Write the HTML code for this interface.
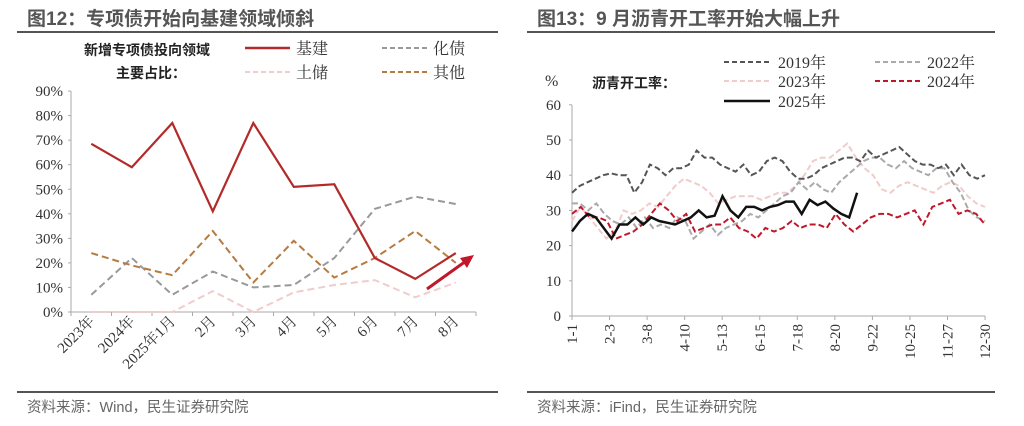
<!DOCTYPE html>
<html><head><meta charset="utf-8"><style>
body{margin:0;background:#fff;}
svg{display:block;font-family:"Liberation Serif","Noto Serif CJK SC",serif;}
.t{font-family:"Liberation Sans","Noto Sans CJK SC",sans-serif;font-weight:bold;fill:#555;font-size:19px}
.s{font-family:"Liberation Sans","Noto Sans CJK SC",sans-serif;fill:#666;font-size:14.5px}
.lg{font-family:"Liberation Serif","Noto Serif CJK SC",serif;fill:#333;font-size:16px}
.b{font-family:"Liberation Sans","Noto Sans CJK SC",sans-serif;font-weight:bold;fill:#222;font-size:14px}
.ax{font-size:15px;fill:#333}
</style></head><body>
<svg id="s" width="1024" height="426" viewBox="0 0 1024 426">
<text class="t" x="27" y="25">图12：专项债开始向基建领域倾斜</text>
<line x1="17" y1="32" x2="498" y2="32" stroke="#555" stroke-width="2"/>
<text class="t" x="537" y="25">图13：9 月沥青开工率开始大幅上升</text>
<line x1="527" y1="32" x2="995" y2="32" stroke="#555" stroke-width="2"/>
<line x1="17" y1="392" x2="498" y2="392" stroke="#555" stroke-width="2"/>
<line x1="527" y1="392" x2="995" y2="392" stroke="#555" stroke-width="2"/>
<text class="s" x="27" y="412">资料来源：Wind，民生证券研究院</text>
<text class="s" x="537" y="412">资料来源：iFind，民生证券研究院</text>
<!-- left legend -->
<text class="b" x="84" y="55">新增专项债投向领域</text>
<text class="b" x="116" y="78">主要占比：</text>
<line x1="245" y1="48" x2="290" y2="48" stroke="#b22a2a" stroke-width="2.5"/><text class="lg" x="296" y="54">基建</text>
<line x1="382" y1="48" x2="427" y2="48" stroke="#999" stroke-width="2" stroke-dasharray="5,3"/><text class="lg" x="433" y="54">化债</text>
<line x1="245" y1="72" x2="290" y2="72" stroke="#f0cccc" stroke-width="2" stroke-dasharray="5,3"/><text class="lg" x="296" y="78">土储</text>
<line x1="382" y1="72" x2="427" y2="72" stroke="#b87a3e" stroke-width="2" stroke-dasharray="5,3"/><text class="lg" x="433" y="78">其他</text>
<!-- right legend -->
<text class="lg" x="545" y="86">%</text>
<text class="b" x="592" y="88">沥青开工率：</text>
<line x1="724" y1="62" x2="770" y2="62" stroke="#555" stroke-width="2" stroke-dasharray="5,3"/><text class="lg" x="778" y="68">2019年</text>
<line x1="875" y1="62" x2="920" y2="62" stroke="#aaa" stroke-width="2" stroke-dasharray="5,3"/><text class="lg" x="927" y="68">2022年</text>
<line x1="724" y1="81" x2="770" y2="81" stroke="#f0cccc" stroke-width="2" stroke-dasharray="5,3"/><text class="lg" x="778" y="87">2023年</text>
<line x1="875" y1="81" x2="920" y2="81" stroke="#c0182a" stroke-width="2" stroke-dasharray="5,3"/><text class="lg" x="927" y="87">2024年</text>
<line x1="724" y1="101" x2="770" y2="101" stroke="#111" stroke-width="2.5"/><text class="lg" x="778" y="107">2025年</text>
<g id="g"></g>
</svg>
<script>
var g=document.getElementById('g'),h='';
var L0=71,Lw=40.5,Ly0=312,Lk=2.455;
for(var i=0;i<=9;i++){var y=Ly0-i*10*Lk;h+='<text class="ax" x="63" y="'+(y+5)+'" text-anchor="end">'+(i*10)+'%</text><line x1="68" y1="'+y+'" x2="71" y2="'+y+'" stroke="#aaa"/>';}
h+='<line x1="71" y1="91" x2="71" y2="312" stroke="#aaa"/><line x1="71" y1="312" x2="476" y2="312" stroke="#aaa"/>';
var cats=['2023年','2024年','2025年1月','2月','3月','4月','5月','6月','7月','8月'];
for(var i=0;i<=10;i++)h+='<line x1="'+(L0+i*Lw)+'" y1="312" x2="'+(L0+i*Lw)+'" y2="316" stroke="#aaa"/>';
cats.forEach(function(c,i){var x=L0+Lw*(i+0.5)+4,y=322;h+='<text class="ax" x="'+x+'" y="'+y+'" text-anchor="end" transform="rotate(-45 '+x+' '+y+')">'+c+'</text>';});
function lp(d){return d.map(function(v,i){return (L0+Lw*(i+0.5)).toFixed(1)+','+(Ly0-v*Lk).toFixed(1)}).join(' ');}
h+='<polyline fill="none" stroke="#f0cccc" stroke-width="2" stroke-dasharray="7,4" points="'+lp([0,0,0,8.5,0,8,11,13,6,12])+'"/>';
h+='<polyline fill="none" stroke="#999" stroke-width="2" stroke-dasharray="7,4" points="'+lp([7,22,7,16.5,10,11,22,42,47,44])+'"/>';
h+='<polyline fill="none" stroke="#b87a3e" stroke-width="2" stroke-dasharray="7,4" points="'+lp([24,19,15,33,12,29,14,22,33,20])+'"/>';
h+='<polyline fill="none" stroke="#b22a2a" stroke-width="2.2" points="'+lp([68.5,59,77,41,77,51,52,22,13.5,24])+'"/>';
h+='<line x1="427" y1="289" x2="466" y2="261" stroke="#c0182a" stroke-width="3"/><polygon points="474,255 460,258 467,268" fill="#c0182a"/>';
var R0=572,Ry0=316,Rk=3.52;
for(var i=0;i<=6;i++){var y=Ry0-i*10*Rk;h+='<text class="ax" x="561" y="'+(y+5)+'" text-anchor="end">'+(i*10)+'</text><line x1="569" y1="'+y+'" x2="572" y2="'+y+'" stroke="#aaa"/>';}
h+='<line x1="572" y1="105" x2="572" y2="316" stroke="#aaa"/><line x1="572" y1="316" x2="985" y2="316" stroke="#aaa"/>';
var lab=['1-1','2-3','3-8','4-10','5-13','6-15','7-18','8-20','9-22','10-25','11-27','12-30'];
lab.forEach(function(c,i){var x=R0+i*37.55;h+='<line x1="'+x+'" y1="316" x2="'+x+'" y2="320" stroke="#aaa"/><text class="ax" x="'+(x+5)+'" y="324" text-anchor="end" transform="rotate(-90 '+(x+5)+' 324)">'+c+'</text>';});
function rp(d,s){s=s||(413/(d.length-1));return d.map(function(v,i){return (R0+s*i).toFixed(1)+','+(Ry0-v*Rk).toFixed(1)}).join(' ');}
h+='<polyline fill="none" stroke="#f0cccc" stroke-width="2" stroke-dasharray="6,3" points="'+rp([27,31,28,25,22,24,30,29,30,32,31,34,37,39,38,37,35,32,33,34,34,34,33,34,35,35,37,40,44,45,45,47,49,45,42,40,36,35,37,38,37,36,35,37,38,37,34,32,31])+'"/>';
h+='<polyline fill="none" stroke="#aaa" stroke-width="2" stroke-dasharray="6,3" points="'+rp([32,32,30,32,29,27,26,28,25,28,25,26,25,28,27,22,24,26,23,25,26,27,29,28,30,32,34,35,38,36,38,36,35,38,40,42,44,45,45,43,42,44,42,41,40,42,42,38,35,30,28,27])+'"/>';
h+='<polyline fill="none" stroke="#555" stroke-width="2" stroke-dasharray="6,3" points="'+rp([35,37,38,39,40,40.5,40,40,35,38,43,42,40,42,42,43,47,45,45,43,42,41,43,40,41,44,45,44,41,39,39,40,42,43,44,45,45,44,47,45,46,47,48,46,44,43,43,42,43,40,43,40,39,40])+'"/>';
h+='<polyline fill="none" stroke="#c0182a" stroke-width="2" stroke-dasharray="6,3" points="'+rp([29,31,28,28,27,22,23,24,26,29,32,30,27,29,24,25,26,26,28,25,24,22,25,24,25,27,25,26,26,25,29,26,24,26,28,29,29,28,29,30,26,31,32,33,29,30,29,26])+'"/>';
h+='<polyline fill="none" stroke="#111" stroke-width="2.5" points="'+rp([24,27,29,28,25,22,26,26,28,26,28,27,26.5,26,27,28,30,28,28.5,34,30,28,31,31,30,31,31.5,32.5,32.5,29,33,31.5,32.5,30.5,29,28,35],7.92)+'"/>';
g.innerHTML=h;
</script>
</body></html>
